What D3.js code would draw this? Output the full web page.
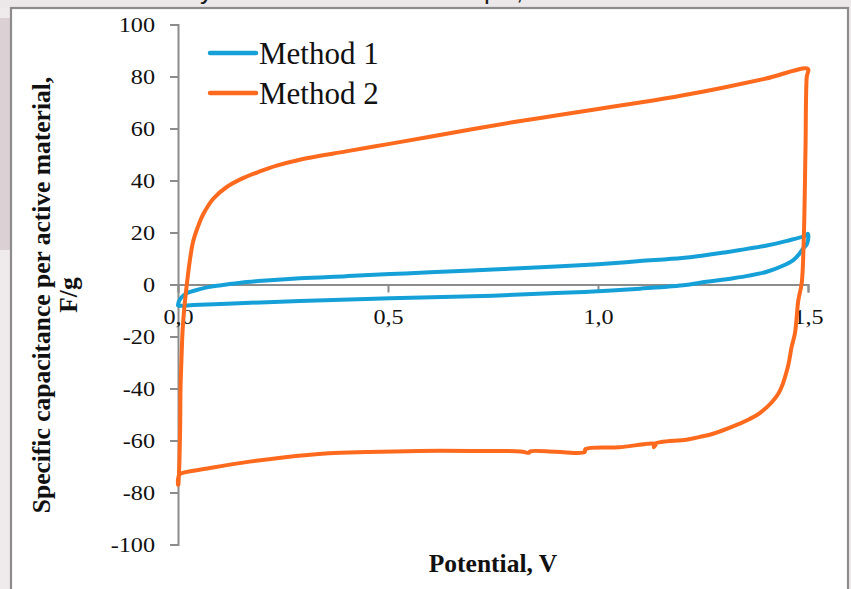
<!DOCTYPE html>
<html>
<head>
<meta charset="utf-8">
<script src="https://cdn.jsdelivr.net/npm/d3@7"></script>
<style>
  html, body { margin: 0; padding: 0; background: #efeaec; }
  svg { display: block; }
</style>
</head>
<body>
<svg id="chart" width="851" height="589"></svg>
<script>
// ---------- data ----------
const seriesNames = ["Method 1", "Method 2"];
const seriesColors = ["#15a0d8", "#fd6a1e"];

const xTickValues = [0, 0.5, 1.0, 1.5];
const xTickLabels = ["0,0", "0,5", "1,0", "1,5"];
const yTickValues = [-100, -80, -60, -40, -20, 0, 20, 40, 60, 80, 100];
const yTickLabels = ["-100", "-80", "-60", "-40", "-20", "0", "20", "40", "60", "80", "100"];

// Method 1 loop (potential V, specific capacitance F/g)
const method1Potential = [
  0.000, 0.002, 0.008, 0.018, 0.036, 0.071, 0.116, 0.145, 0.200, 0.290, 0.400, 0.505,
  0.600, 0.750, 0.900, 1.000, 1.100, 1.200, 1.243, 1.300, 1.402, 1.450, 1.497, 1.500,
  1.500, 1.496, 1.489, 1.478, 1.465, 1.440, 1.402, 1.360, 1.322, 1.243, 1.209, 1.100,
  1.000, 0.900, 0.750, 0.505, 0.290, 0.145, 0.036, 0.005, 0.000
];
const method1Capacitance = [
  -8.0, -6.5, -5.0, -3.6, -2.5, -1.0, 0.0, 0.6, 1.4, 2.4, 3.2, 4.0,
  4.7, 5.8, 6.9, 7.8, 9.0, 10.2, 11.0, 12.3, 15.0, 16.8, 19.0, 19.5,
  17.0, 15.2, 13.9, 11.5, 9.4, 7.2, 4.9, 3.4, 2.4, 0.7, -0.2, -1.6,
  -2.6, -3.3, -4.3, -5.3, -6.3, -7.2, -7.9, -8.2, -8.0
];

// Method 2 loop
const method2Potential = [
  0.001, 0.003, 0.005, 0.006, 0.008, 0.011, 0.015, 0.021, 0.028, 0.036, 0.047, 0.060,
  0.084, 0.116, 0.156, 0.195, 0.235, 0.290, 0.400, 0.500, 0.600, 0.700, 0.800, 0.900, 1.000,
  1.100, 1.200, 1.300, 1.400, 1.500,
  1.497, 1.494, 1.490, 1.485, 1.477, 1.469, 1.461, 1.452, 1.430, 1.386, 1.360, 1.320,
  1.274, 1.243, 1.210, 1.135, 1.133, 1.137, 1.050, 0.970, 0.968, 0.900, 0.838, 0.836,
  0.816, 0.700, 0.572, 0.450, 0.359, 0.250, 0.147, 0.070, 0.0085, 0.003, 0.000, 0.000
];
const method2Capacitance = [
  -77.0, -70.0, -56.0, -40.0, -30.0, -17.5, -9.0, 0.0, 9.0, 16.5, 22.0, 27.0,
  33.0, 37.5, 41.0, 43.5, 45.7, 48.0, 51.2, 54.0, 56.8, 59.7, 62.5, 65.0, 67.5,
  70.0, 72.7, 75.8, 79.2, 82.9,
  79.8, 51.7, 18.0, 0.5, -6.0, -18.7, -24.0, -31.7, -41.8, -49.4, -51.8, -54.7,
  -57.4, -58.6, -59.7, -61.3, -62.6, -61.4, -62.6, -63.3, -64.5, -64.3, -64.2, -64.7,
  -64.2, -64.0, -64.0, -64.4, -64.9, -66.5, -68.7, -70.8, -72.6, -73.2, -75.0, -77.0
];

// ---------- drawing ----------
const svg = d3.select("#chart");
const W = 851, H = 589;

// surrounding backdrop
svg.append("rect").attr("x", 0).attr("y", 0).attr("width", W).attr("height", H).attr("fill", "#efeaec");
svg.append("rect").attr("x", 0).attr("y", 0).attr("width", W).attr("height", 8).attr("fill", "#ece7e9");
svg.append("rect").attr("x", 0).attr("y", 18).attr("width", 10).attr("height", 232).attr("fill", "#dbd1d5");

// cut-off text fragments above the frame (as in the reference)
const frag = svg.append("g").attr("font-family", "'Liberation Sans', Arial, sans-serif")
  .attr("font-size", 26).attr("fill", "#1a1a1a");
frag.append("text").attr("x", 200).attr("y", -1).text("y");
frag.append("text").attr("x", 484).attr("y", -1).text("p");
frag.append("text").attr("x", 516).attr("y", -1).text(",");

// chart frame
svg.append("rect").attr("x", 11).attr("y", 8).attr("width", 837).attr("height", 620)
  .attr("fill", "#ffffff").attr("stroke", "#8c8c8c").attr("stroke-width", 2.2);

const x = d3.scaleLinear().domain([0, 1.5]).range([178, 808]);
const y = d3.scaleLinear().domain([-100, 100]).range([544.5, 24.5]);

const axisColor = "#8c8c8c";
const tickFont = "'Liberation Serif', 'Times New Roman', serif";

// Y axis
const yAxis = svg.append("g").attr("transform", `translate(${x(0)},0)`)
  .call(d3.axisLeft(y).tickValues(yTickValues).tickSize(8).tickSizeOuter(8)
    .tickFormat((d, i) => yTickLabels[i]));
yAxis.select(".domain").attr("stroke", axisColor).attr("stroke-width", 2);
yAxis.selectAll(".tick line").attr("stroke", axisColor).attr("stroke-width", 2);
yAxis.selectAll(".tick text")
  .attr("x", null).attr("dy", null)
  .attr("transform", "translate(-23,7) scale(1.18,1)")
  .attr("text-anchor", "end")
  .attr("font-family", tickFont).attr("font-size", 20.5).attr("fill", "#111");

// X axis at y=0
const xAxis = svg.append("g").attr("transform", `translate(0,${y(0)})`)
  .call(d3.axisBottom(x).tickValues(xTickValues).tickSize(8).tickSizeOuter(8)
    .tickFormat((d, i) => xTickLabels[i]));
xAxis.select(".domain").attr("stroke", axisColor).attr("stroke-width", 2);
xAxis.selectAll(".tick line").attr("stroke", axisColor).attr("stroke-width", 2);
xAxis.selectAll(".tick text")
  .attr("y", null).attr("dy", null)
  .attr("transform", "translate(0,39.5) scale(1.18,1)")
  .attr("text-anchor", "middle")
  .attr("font-family", tickFont).attr("font-size", 20.5).attr("fill", "#111");

// series
const line = d3.line().x(d => x(d[0])).y(d => y(d[1])).curve(d3.curveCatmullRom.alpha(0.5));
const series = [
  d3.zip(method1Potential, method1Capacitance),
  d3.zip(method2Potential, method2Capacitance)
];
series.forEach((pts, i) => {
  svg.append("path").datum(pts)
    .attr("d", line)
    .attr("fill", "none")
    .attr("stroke", seriesColors[i])
    .attr("stroke-width", 4)
    .attr("stroke-linejoin", "round")
    .attr("stroke-linecap", "round");
});

// legend
const legend = svg.append("g");
seriesNames.forEach((name, i) => {
  const ly = 53 + i * 40;
  legend.append("line").attr("x1", 210).attr("x2", 256).attr("y1", ly).attr("y2", ly)
    .attr("stroke", seriesColors[i]).attr("stroke-width", 4.5).attr("stroke-linecap", "round");
  legend.append("text").attr("x", 259).attr("y", ly + 10.5)
    .attr("font-family", tickFont).attr("font-size", 31).attr("fill", "#111").text(name);
});

// axis titles
svg.append("text")
  .attr("x", 493).attr("y", 572)
  .attr("text-anchor", "middle")
  .attr("font-family", tickFont).attr("font-weight", "bold").attr("font-size", 25.5)
  .attr("fill", "#111").text("Potential, V");

const yTitle = svg.append("text")
  .attr("transform", "translate(49.5,295) rotate(-90)")
  .attr("text-anchor", "middle")
  .attr("font-family", tickFont).attr("font-weight", "bold").attr("font-size", 25.5)
  .attr("fill", "#111");
yTitle.append("tspan").attr("x", 0).attr("y", 0).text("Specific capacitance per active material,");
yTitle.append("tspan").attr("x", 0).attr("y", 27).text("F/g");
</script>
</body>
</html>
